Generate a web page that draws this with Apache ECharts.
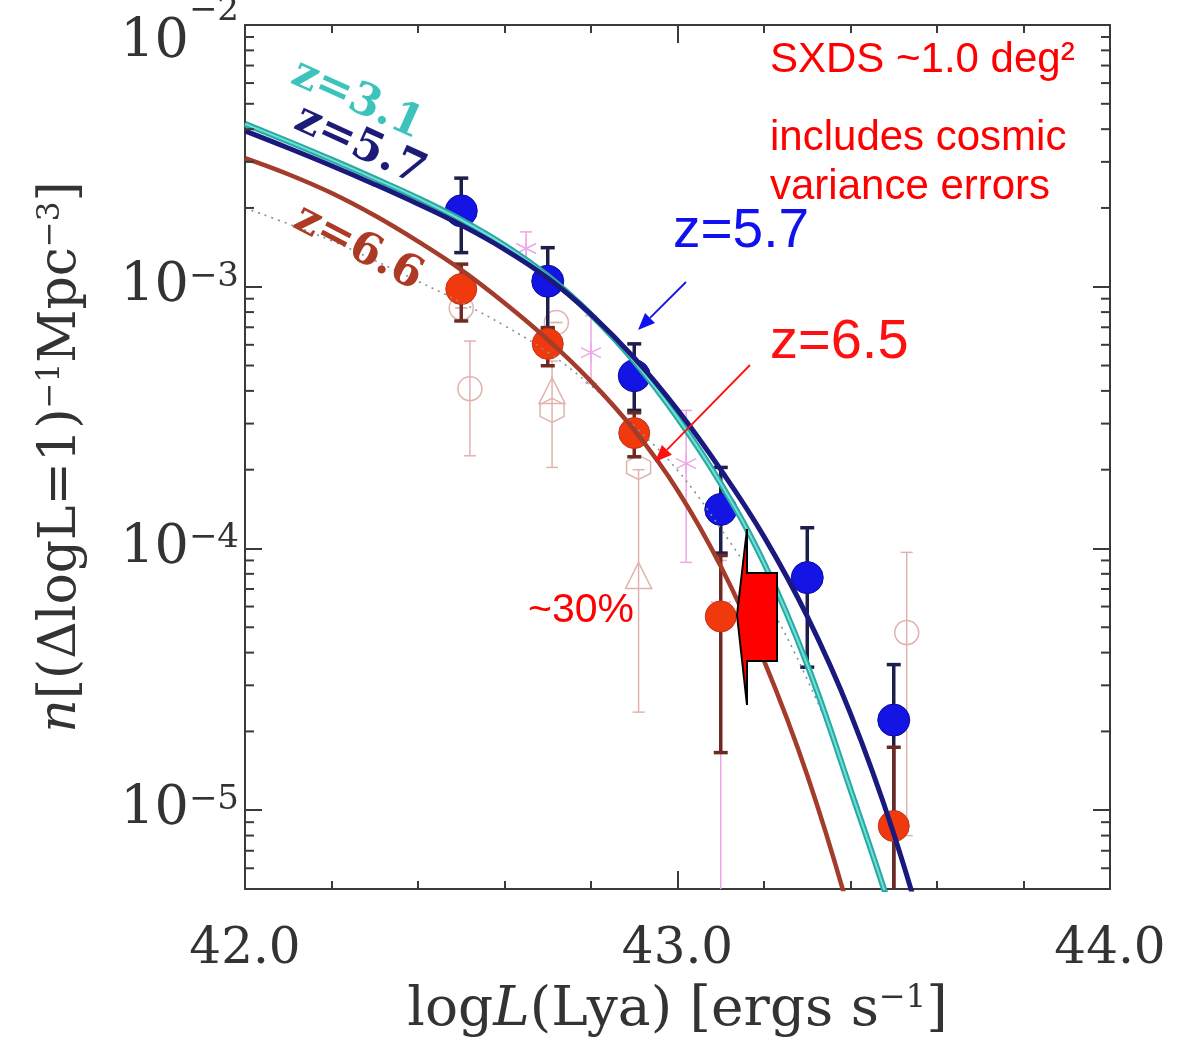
<!DOCTYPE html>
<html>
<head>
<meta charset="utf-8">
<title>Lya luminosity function</title>
<script src="https://cdn.jsdelivr.net/npm/echarts@6/dist/echarts.min.js"></script>
<style>
  html, body { margin: 0; padding: 0; background: #fff; }
  #chart { width: 1186px; height: 1047px; }
</style>
</head>
<body>
<div id="chart"></div>
<script>
// tick labels
var xTickLabels = [42, 43, 44];
var yTickExps = [-5, -4, -3, -2];

// z=5.7 (blue points)
var blueX  = [42.5, 42.7, 42.9, 43.1, 43.3, 43.5];
var blueY  = [1.95e-3, 1.05e-3, 4.57e-4, 1.41e-4, 7.74e-5, 2.21e-5];
var blueLo = [1.35e-3, 6.9e-4, 3.37e-4, 9.6e-5, 3.52e-5, 4e-6];
var blueHi = [2.60e-3, 1.41e-3, 6.05e-4, 2.04e-4, 1.20e-4, 3.6e-5];

// z=6.5 (red points)
var redX  = [42.5, 42.7, 42.9, 43.1, 43.5];
var redY  = [9.8e-4, 6.05e-4, 2.76e-4, 5.5e-5, 8.7e-6];
var redLo = [7.4e-4, 4.99e-4, 2.24e-4, 1.66e-5, 4e-6];
var redHi = [1.22e-3, 6.98e-4, 3.3e-4, 9.4e-5, 1.74e-5];

// faint comparison points from other surveys
var otherCircX  = [42.5, 42.52, 42.72, 43.53];
var otherCircY  = [8.3e-4, 4.08e-4, 7.3e-4, 4.77e-5];
var otherCircLo = [8.3e-4, 2.26e-4, 7.3e-4, 8e-6];
var otherCircHi = [8.3e-4, 6.2e-4, 7.3e-4, 9.66e-5];
var otherTriX  = [42.71, 42.91];
var otherTriY  = [4.01e-4, 7.89e-5];
var otherTriLo = [2.04e-4, 2.37e-5];
var otherTriHi = [5.2e-4, 2.0e-4];
var otherHexX  = [42.71, 42.91];
var otherHexY  = [3.37e-4, 2.04e-4];
var pinkX  = [42.65, 42.80, 43.02, 43.10];
var pinkY  = [1.40e-3, 5.6e-4, 2.11e-4, 6.0e-5];
var pinkLo = [1.25e-3, 4.27e-4, 8.85e-5, 4e-6];
var pinkHi = [1.62e-3, 7.75e-4, 3.37e-4, 9.0e-5];

var curveX = [42.0, 42.1, 42.2, 42.3, 42.4, 42.5, 42.6, 42.7, 42.8, 42.9,
              43.0, 43.1, 43.2, 43.3, 43.4, 43.5, 43.6];
var curve57 = [3.94e-3, 3.39e-3, 2.90e-3, 2.46e-3, 2.07e-3, 1.72e-3, 1.39e-3, 1.08e-3, 7.85e-4, 5.35e-4,
               3.39e-4, 2.00e-4, 1.11e-4, 5.50e-5, 2.34e-5, 8.13e-6, 2.24e-6];
var curve31 = [4.19e-3, 3.59e-3, 3.06e-3, 2.59e-3, 2.18e-3, 1.80e-3, 1.44e-3, 1.10e-3, 7.83e-4, 5.19e-4,
               3.16e-4, 1.77e-4, 8.8e-5, 3.6e-5, 1.2e-5, 3.8e-6, 1.0e-6];
var curve66 = [3.10e-3, 2.69e-3, 2.28e-3, 1.87e-3, 1.49e-3, 1.16e-3, 8.67e-4, 6.28e-4, 4.35e-4, 2.83e-4,
               1.67e-4, 8.55e-5, 3.73e-5, 1.36e-5, 3.91e-6, 8.7e-7, 2.0e-7];
var curveDot = [2.00e-3, 1.74e-3, 1.50e-3, 1.26e-3, 1.05e-3, 8.71e-4, 7.10e-4, 5.62e-4, 4.19e-4, 2.94e-4,
                1.99e-4, 1.19e-4, 6.61e-5, 3.16e-5, 1.26e-5, 3.8e-6, 1.0e-6];

var axisColor = '#3a3a3a';
var textColor = '#333';
var serif = 'DejaVu Serif';

function pairs(xs, ys) {
  return xs.map(function (x, i) { return [x, ys[i]]; });
}
function triples(xs, lo, hi) {
  return xs.map(function (x, i) { return [x, lo[i], hi[i]]; });
}

// vertical error bar with caps
function errBar(color, width, cap) {
  return function (params, api) {
    var x = api.value(0);
    var lo = api.coord([x, api.value(1)]);
    var hi = api.coord([x, api.value(2)]);
    var st = { stroke: color, lineWidth: width };
    return {
      type: 'group',
      children: [
        { type: 'line', shape: { x1: lo[0], y1: lo[1], x2: hi[0], y2: hi[1] }, style: st },
        { type: 'line', shape: { x1: hi[0] - cap, y1: hi[1], x2: hi[0] + cap, y2: hi[1] }, style: st },
        { type: 'line', shape: { x1: lo[0] - cap, y1: lo[1], x2: lo[0] + cap, y2: lo[1] }, style: st }
      ]
    };
  };
}

// log minor ticks (2..9 x decade) on both frame sides
var yMinor = [];
for (var e = -6; e < -2; e++) {
  for (var m = 2; m <= 9; m++) {
    var v = m * Math.pow(10, e);
    if (v > 5.01e-6 && v < 1e-2) yMinor.push([42, v]);
  }
}

function arrow(x1, y1, x2, y2, color, w) {
  var dx = x2 - x1, dy = y2 - y1, len = Math.sqrt(dx * dx + dy * dy);
  var ux = dx / len, uy = dy / len, hl = 17, hw = 7;
  var bx = x2 - ux * hl, by = y2 - uy * hl;
  return [
    { type: 'line', z: 100, shape: { x1: x1, y1: y1, x2: bx, y2: by }, style: { stroke: color, lineWidth: w } },
    { type: 'polygon', z: 100, shape: { points: [[x2, y2], [bx - uy * hw, by + ux * hw], [bx + uy * hw, by - ux * hw]] },
      style: { fill: color } }
  ];
}

function txt(text, x, y, font, color, rot, align) {
  return {
    type: 'text', z: 100, x: x, y: y, rotation: rot || 0,
    style: { text: text, font: font, fill: color,
             align: align || 'left', verticalAlign: 'middle',
             textAlign: align || 'left', textVerticalAlign: 'middle' }
  };
}

var faint = '#dfb4ac';
var pink = '#eea6e6';

var chart = echarts.init(document.getElementById('chart'));

var frameLine = { show: true, onZero: false, lineStyle: { color: axisColor, width: 2 } };
var tickStyle = { color: axisColor, width: 2 };

chart.setOption({
  animation: false,
  backgroundColor: '#fff',
  grid: { left: 245, right: 76, top: 25, bottom: 158, containLabel: false, outerBoundsMode: 'none' },
  xAxis: [
    {
      type: 'value', min: 42, max: 44, interval: 1, position: 'bottom',
      axisLine: frameLine, splitLine: { show: false },
      axisTick: { inside: true, length: 18, lineStyle: tickStyle },
      minorTick: { show: true, splitNumber: 5, length: 8, lineStyle: tickStyle },
      axisLabel: {
        margin: 36, color: textColor, fontFamily: serif, fontSize: 50,
        formatter: function (v) {
          return xTickLabels.indexOf(Math.round(v)) >= 0 ? v.toFixed(1) : '';
        }
      },
      name: '{t|log}{i|L}{t|(Lya) [ergs s}{s|\u22121}{t|]}',
      nameLocation: 'middle', nameGap: 94, nameMoveOverlap: false,
      nameTextStyle: {
        rich: {
          t: { fontFamily: serif, fontSize: 55, color: textColor },
          i: { fontFamily: serif, fontSize: 55, fontStyle: 'italic', color: textColor },
          s: { fontFamily: serif, fontSize: 32, color: textColor, verticalAlign: 'top' }
        }
      }
    },
    {
      type: 'value', min: 42, max: 44, interval: 1, position: 'top',
      axisLine: frameLine, splitLine: { show: false },
      axisTick: { inside: true, length: 18, lineStyle: tickStyle },
      minorTick: { show: true, splitNumber: 5, length: 8, lineStyle: tickStyle },
      axisLabel: { show: false }
    }
  ],
  yAxis: [
    {
      type: 'log', logBase: 10, min: 5e-6, max: 1e-2, position: 'left',
      axisLine: frameLine, splitLine: { show: false },
      axisTick: { inside: true, length: 17, lineStyle: tickStyle },
      axisLabel: {
        margin: 6,
        formatter: function (v) {
          var lg = Math.log10(v), ex = Math.round(lg);
          if (Math.abs(lg - ex) > 1e-3 || yTickExps.indexOf(ex) < 0) return '';
          // the top label sits a little lower, as in the original
          if (ex === -2) return '{a2|10}{b2|\u2212' + (-ex) + '}';
          return '{a|10}{b|\u2212' + (-ex) + '}';
        },
        rich: {
          a: { fontFamily: serif, fontSize: 54, color: textColor },
          b: { fontFamily: serif, fontSize: 34, color: textColor, verticalAlign: 'top' },
          a2: { fontFamily: serif, fontSize: 54, color: textColor, padding: [36, 0, 0, 0] },
          b2: { fontFamily: serif, fontSize: 34, color: textColor, verticalAlign: 'top', padding: [14, 0, 0, 0] }
        }
      },
      name: '{i|n}{t|[(\u0394logL=1)}{s|\u22121}{t|Mpc}{s|\u22123}{t|]}',
      nameLocation: 'middle', nameGap: 158, nameRotate: 90, nameMoveOverlap: false,
      nameTextStyle: {
        rich: {
          t: { fontFamily: serif, fontSize: 52, color: textColor },
          i: { fontFamily: serif, fontSize: 52, fontStyle: 'italic', color: textColor },
          s: { fontFamily: serif, fontSize: 31, color: textColor, verticalAlign: 'top' }
        }
      }
    },
    {
      type: 'log', logBase: 10, min: 5e-6, max: 1e-2, position: 'right',
      axisLine: frameLine, splitLine: { show: false },
      axisTick: { inside: true, length: 17, lineStyle: tickStyle },
      axisLabel: { show: false }
    }
  ],
  series: [
    // minor log ticks
    {
      type: 'custom', z: 5, silent: true, data: yMinor, encode: { x: 0, y: 1 },
      renderItem: function (params, api) {
        var cs = params.coordSys;
        var p = api.coord([42, api.value(1)]);
        var st = { stroke: axisColor, lineWidth: 2 };
        return {
          type: 'group',
          children: [
            { type: 'line', shape: { x1: cs.x, y1: p[1], x2: cs.x + 9, y2: p[1] }, style: st },
            { type: 'line', shape: { x1: cs.x + cs.width - 9, y1: p[1], x2: cs.x + cs.width, y2: p[1] }, style: st }
          ]
        };
      }
    },
    // faint literature points
    { type: 'custom', z: 1, clip: true, data: triples(otherCircX, otherCircLo, otherCircHi), encode: { x: 0, y: [1, 2] },
      renderItem: errBar(faint, 1.5, 6) },
    { type: 'custom', z: 1, clip: true, data: triples(otherTriX, otherTriLo, otherTriHi), encode: { x: 0, y: [1, 2] },
      renderItem: errBar(faint, 1.5, 6) },
    { type: 'custom', z: 1, clip: true, data: triples(pinkX, pinkLo, pinkHi), encode: { x: 0, y: [1, 2] },
      renderItem: errBar(pink, 1.5, 6) },
    { type: 'scatter', z: 1, data: pairs(otherCircX, otherCircY), symbol: 'circle', symbolSize: 24,
      itemStyle: { color: 'rgba(255,255,255,0)', borderColor: faint, borderWidth: 1.5, opacity: 1 } },
    { type: 'scatter', z: 1, data: pairs(otherTriX, otherTriY), symbol: 'triangle', symbolSize: 26,
      itemStyle: { color: 'rgba(255,255,255,0)', borderColor: faint, borderWidth: 1.5, opacity: 1 } },
    { type: 'scatter', z: 1, data: pairs(otherHexX, otherHexY),
      symbol: 'path://M0,-10L8.7,-5L8.7,5L0,10L-8.7,5L-8.7,-5Z', symbolSize: 24,
      itemStyle: { color: 'rgba(255,255,255,0)', borderColor: faint, borderWidth: 1.5, opacity: 1 } },
    { type: 'scatter', z: 1, data: pairs(pinkX, pinkY),
      symbol: 'path://M0,-10L0,10M-9,-5L9,5M-9,5L9,-5', symbolSize: 20,
      itemStyle: { color: 'rgba(255,255,255,0)', borderColor: pink, borderWidth: 1.5, opacity: 1 } },

    // error bars of the SXDS points
    { type: 'custom', z: 2, clip: true, data: triples(blueX, blueLo, blueHi), encode: { x: 0, y: [1, 2] },
      renderItem: errBar('#1e1e4a', 3.5, 7) },
    { type: 'custom', z: 2, clip: true, data: triples(redX, redLo, redHi), encode: { x: 0, y: [1, 2] },
      renderItem: errBar('#6e2a22', 3.5, 7) },

    // SXDS points
    { name: 'z=5.7', type: 'scatter', z: 3, data: pairs(blueX, blueY), symbol: 'circle', symbolSize: 32,
      itemStyle: { color: '#1414e4', borderColor: '#0c0c9a', borderWidth: 1, opacity: 1 } },
    { name: 'z=6.5', type: 'scatter', z: 3, data: pairs(redX, redY), symbol: 'circle', symbolSize: 31,
      itemStyle: { color: '#f03a0e', borderColor: '#c0341a', borderWidth: 1, opacity: 1 } },

    // fitted curves
    { type: 'line', z: 4, data: pairs(curveX, curveDot), smooth: 0.4, showSymbol: false,
      lineStyle: { color: '#7a9499', width: 1.6, type: [2, 5] } },
    { name: 'z=6.6', type: 'line', z: 4, data: pairs(curveX, curve66), smooth: 0.4, showSymbol: false,
      lineStyle: { color: '#a33c2a', width: 4.5 } },
    { name: 'z=3.1', type: 'line', z: 4, data: pairs(curveX, curve31), smooth: 0.4, showSymbol: false,
      lineStyle: { color: '#2aa9a2', width: 6 } },
    { type: 'line', z: 4, data: pairs(curveX, curve31), smooth: 0.4, showSymbol: false,
      lineStyle: { color: '#6fe0d8', width: 2 } },
    { name: 'z=5.7 fit', type: 'line', z: 4, data: pairs(curveX, curve57), smooth: 0.4, showSymbol: false,
      lineStyle: { color: '#1a1a7e', width: 5 } }
  ],
  graphic: [].concat(
    [
      txt('z=3.1', 357, 100, 'bold 44px "DejaVu Serif"', '#3cc4bc', -0.42, 'center'),
      txt('z=5.7', 360, 146, 'bold 44px "DejaVu Serif"', '#1c1c78', -0.43, 'center'),
      txt('z=6.6', 358, 248, 'bold 44px "DejaVu Serif"', '#ac3a24', -0.48, 'center'),
      txt('SXDS ~1.0 deg\u00b2', 770, 60, '42px "Liberation Sans"', '#ff0000'),
      txt('includes cosmic', 770, 138, '42px "Liberation Sans"', '#ff0000'),
      txt('variance errors', 770, 187, '42px "Liberation Sans"', '#ff0000'),
      txt('z=5.7', 673, 232, '55px "Liberation Sans"', '#1010f0'),
      txt('z=6.5', 770, 343, '56px "Liberation Sans"', '#ff1010'),
      txt('~30%', 528, 611, '41px "Liberation Sans"', '#ff0000'),
      { type: 'polygon', z: 100,
        shape: { points: [[747, 529], [747, 573], [777, 573], [777, 661], [747, 661], [747, 705], [737, 615]] },
        style: { fill: '#ff0000', stroke: '#000', lineWidth: 2 } }
    ],
    arrow(686, 282, 638, 330, '#1010f0', 1.8),
    arrow(750, 365, 655, 462, '#ff1010', 1.8)
  )
});
</script>
</body>
</html>
